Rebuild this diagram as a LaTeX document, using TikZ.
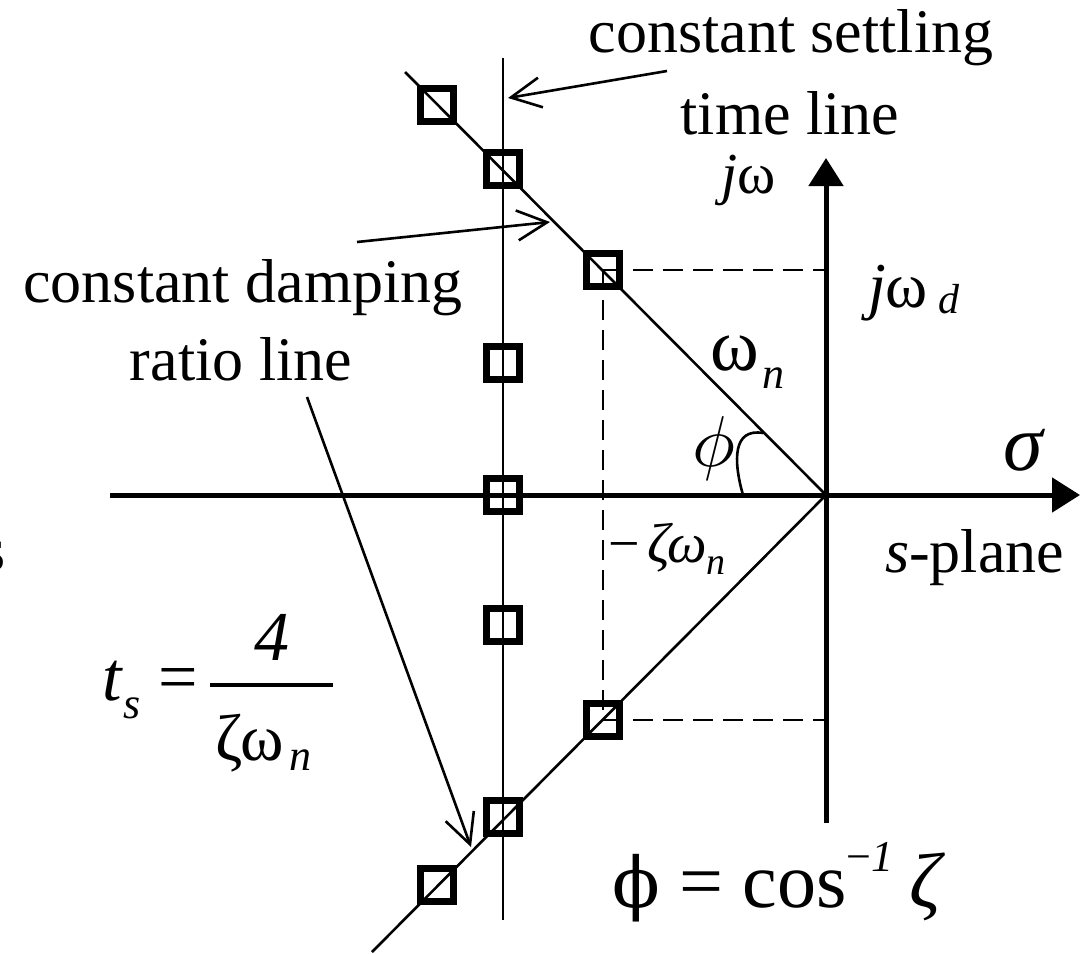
\documentclass[tikz,border=0pt]{standalone}
\usepackage{fontspec}
\setmainfont{Liberation Serif}
\newfontfamily\djserif{DejaVu Serif}
\usetikzlibrary{arrows.meta}
\newcommand{\fs}[1]{\fontsize{#1}{#1}\selectfont}
\newcommand{\lowr}[2]{\raisebox{-#1pt}{#2}}
\begin{document}
\begin{tikzpicture}[x=1pt,y=-1pt,
  thinline/.style={line width=2.6pt},
  axisline/.style={line width=5pt,-{Triangle[length=28pt,width=34pt]}},
  dashline/.style={line width=2.6pt,dash pattern=on 20pt off 10pt},
  pole/.style={draw,rectangle,line width=7pt,minimum size=33pt,inner sep=0pt},
  callout/.style={line width=2.6pt,-{Straight Barb[length=30pt,width=30pt]}},
  lbl/.style={inner sep=0pt,anchor=base},
  lblw/.style={inner sep=0pt,anchor=base west},
]
\useasboundingbox (0,0) rectangle (1084,953);
% coordinates
\coordinate (O) at (826,495);
\coordinate (Hl) at (110,495);
\coordinate (Hr) at (1080,495);
\coordinate (Vb) at (826,823);
\coordinate (Vt) at (826,158);
\coordinate (Lt) at (503,58);
\coordinate (Lb) at (503,920);
\coordinate (Du) at (405,72);
\coordinate (Dl) at (372,952);
\coordinate (Jd) at (826,270);
\coordinate (Jmd) at (826,720);
\coordinate (c1s) at (667,71);
\coordinate (c1t) at (508,98);
\coordinate (c2s) at (357,242);
\coordinate (c2t) at (550,222);
\coordinate (c3s) at (307,397);
\coordinate (c3t) at (471,847);
\coordinate (a0) at (743,495);
\coordinate (a1) at (763,433);
\coordinate (fl) at (210,685);
\coordinate (fr) at (333,685);
% lines
\draw[thinline] (Lt) -- (Lb);
\draw[thinline] (Du) -- (O) -- (Dl);
\draw[axisline] (Hl) -- (Hr);
\draw[axisline] (Vb) -- (Vt);
\draw[thinline] (a0) .. controls (733,460) and (733,428) .. (a1);
% dashed projections
\coordinate (p3) at (603,270);
\coordinate (p7) at (603,720);
\draw[dashline] (p3) -- (Jd);
\draw[dashline] (p3) -- (p7);
\draw[dashline] (p7) -- (Jmd);
% poles
\node[pole] (s1) at (437,105) {};
\node[pole] (s2) at (503,169) {};
\node[pole] (s3) at (p3) {};
\node[pole] (s4) at (503,363) {};
\node[pole] (s5) at (503,495) {};
\node[pole] (s6) at (503,625) {};
\node[pole] (s7) at (p7) {};
\node[pole] (s8) at (503,817) {};
\node[pole] (s9) at (437,885) {};
% callouts
\draw[callout] (c1s) -- (c1t);
\draw[callout] (c2s) -- (c2t);
\draw[callout] (c3s) -- (c3t);
% text labels
\node[lbl] (t1) at (791,52) {\fs{62}constant settling};
\node[lbl] (t2) at (790,134) {\fs{62}time line};
\node[lbl] (t3) at (243,302) {\fs{62}constant damping};
\node[lbl] (t4) at (241,380) {\fs{62}ratio line};
\node[lblw] (jw) at (721,193) {\fs{58}\textit{j}ω};
\node[lblw] (jwd) at (868,307) {\fs{64}\textit{j}ω\hspace{10pt}\lowr{6}{\fs{42}\textit{d}}};
\node[lblw] (wn) at (710,370) {\fs{74}ω\hspace{4pt}\lowr{18}{\fs{44}\textit{n}}};
\node[lblw] (phi) at (692,466) {\scalebox{7.2}{$\phi$}};
\node[lblw] (sig) at (1003,470) {\fs{80}\textit{σ}};
\node[lblw] (spl) at (885,572) {\fs{62}\textit{s}-plane};
\node[lblw] (zwn) at (608,562) {\fs{56}−\hspace{8pt}\textit{ζω}\lowr{12}{\fs{38}\textit{n}}};
\node[lblw] (ts) at (102,700) {\fs{70}\textit{t}\lowr{18}{\fs{44}\textit{s}}\hspace{18pt}=};
\draw[line width=3.5pt] (fl) -- (fr);
\node[lbl] (four) at (272,660) {\fs{70}\textit{4}};
\node[lblw] (den) at (215,760) {\fs{66}ζω\hspace{6pt}\lowr{10}{\fs{44}\textit{n}}};
\node[lblw] (eq) at (612,907) {\fs{78}{\djserif\fontsize{70}{70}\selectfont ϕ} = cos\raisebox{36pt}{\fs{44}−\textit{1}}\hspace{16pt}\textit{ζ}};
\node[inner sep=0pt,anchor=base east] (frag) at (6,570) {\fs{62}s};
\end{tikzpicture}
\end{document}
